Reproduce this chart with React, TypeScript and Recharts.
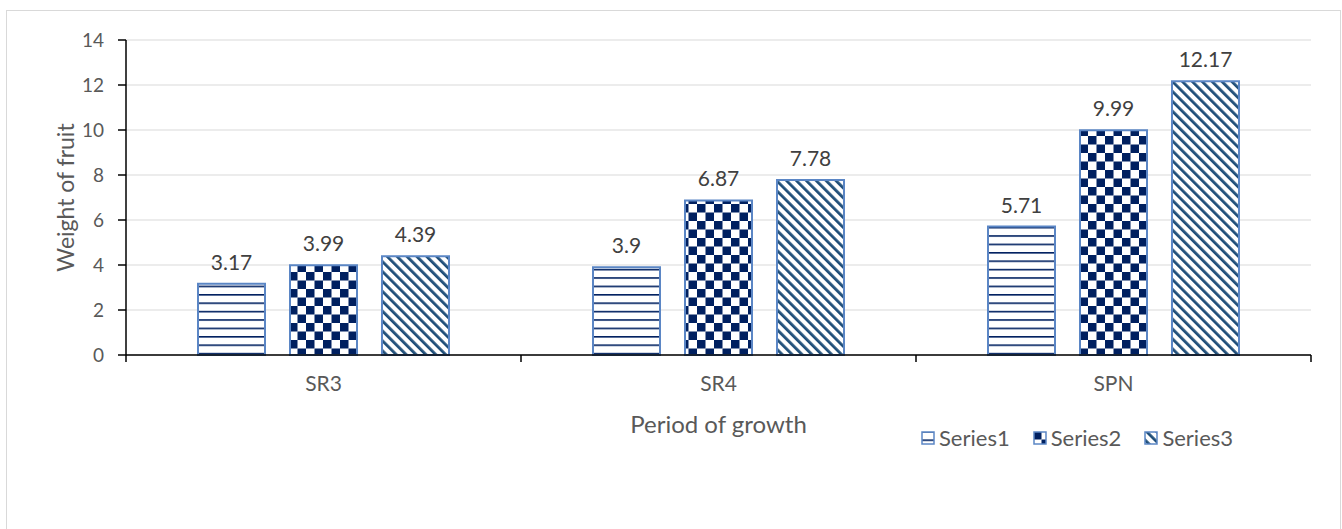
import React from 'react';
import { BarChart, Bar, XAxis, YAxis, CartesianGrid, LabelList } from 'recharts';

const CATEGORIES = ['SR3', 'SR4', 'SPN'];
const SERIES1 = [3.17, 3.9, 5.71];
const SERIES2 = [3.99, 6.87, 9.99];
const SERIES3 = [4.39, 7.78, 12.17];
const Y_TICKS = [0, 2, 4, 6, 8, 10, 12, 14];
const SERIES_NAMES = ['Series1', 'Series2', 'Series3'];

const data = CATEGORIES.map((c, i) => ({
  name: c,
  s1: SERIES1[i],
  s2: SERIES2[i],
  s3: SERIES3[i],
}));

const FONT = 'Lato, "Open Sans", sans-serif';
const NAVY = '#002060';
const STRIPE = '#1F4E79';
const EDGE = '#5B86C5';
const TEXT = '#595959';

const W = 1342;
const H = 529;
const PLOT_LEFT = 126;
const PLOT_RIGHT = 1311;
const PLOT_TOP = 40;
const PLOT_BOTTOM = 355;
const Y_AXIS_W = 70;
const X_AXIS_H = 40;
const BAND = (PLOT_RIGHT - PLOT_LEFT) / CATEGORIES.length;

function CategoryTick({ x, y, payload, index }: any) {
  return (
    <g>
      <line x1={x - BAND / 2} x2={x - BAND / 2} y1={y - 8} y2={y - 1} stroke="#000" strokeWidth={1.5} />
      {index === CATEGORIES.length - 1 && (
        <line x1={x + BAND / 2} x2={x + BAND / 2} y1={y - 8} y2={y - 1} stroke="#000" strokeWidth={1.5} />
      )}
      <text x={x} y={y + 28} textAnchor="middle" fontSize={21} fill={TEXT} fontFamily={FONT}>
        {payload.value}
      </text>
    </g>
  );
}

function LegendBox() {
  const fills = ['url(#pat-s1)', 'url(#pat-s2)', 'url(#pat-s3)'];
  return (
    <div style={{ display: 'flex', gap: 23, fontFamily: FONT, fontSize: 22, color: TEXT, alignItems: 'center' }}>
      {SERIES_NAMES.map((n, i) => (
        <div key={`leg-${n}`} style={{ display: 'flex', alignItems: 'center', gap: 4 }}>
          <svg width={14} height={14}>
            <rect x={1} y={1} width={12} height={12} fill={fills[i]} stroke={EDGE} strokeWidth={1.5} />
          </svg>
          <span>{n}</span>
        </div>
      ))}
    </div>
  );
}

export default function App() {
  return (
    <div style={{ position: 'absolute', left: 0, top: 0, width: W, height: H, background: '#fff', overflow: 'hidden' }}>
      <div style={{ position: 'absolute', left: 6, top: 10, width: 1333, height: 600, border: '1px solid #d9d9d9' }} />
      <div style={{ position: 'absolute', left: 0, top: 0 }}>
        <BarChart
          width={W}
          height={H}
          data={data}
          margin={{ top: PLOT_TOP, right: W - PLOT_RIGHT, left: PLOT_LEFT - Y_AXIS_W, bottom: H - PLOT_BOTTOM - X_AXIS_H }}
          barSize={67}
          barGap={25}
        >
          <defs>
            <pattern id="pat-s1" width={8} height={8.4} patternUnits="userSpaceOnUse">
              <rect width={8} height={8.4} fill="#fff" />
              <rect y={0} width={8} height={1.6} fill={NAVY} />
            </pattern>
            <pattern id="pat-s2" width={17} height={17} patternUnits="userSpaceOnUse">
              <rect width={17} height={17} fill="#fff" />
              <rect x={0} y={0} width={8.5} height={8.5} fill={NAVY} />
              <rect x={8.5} y={8.5} width={8.5} height={8.5} fill={NAVY} />
            </pattern>
            <pattern id="pat-s3" width={7} height={7} patternUnits="userSpaceOnUse" patternTransform="rotate(-45)">
              <rect width={7} height={7} fill="#fff" />
              <rect x={0} y={0} width={2.8} height={7} fill={STRIPE} />
            </pattern>
          </defs>
          <CartesianGrid vertical={false} stroke="#d9d9d9" strokeWidth={1.2} />
          <XAxis
            dataKey="name"
            height={X_AXIS_H}
            axisLine={{ stroke: '#000', strokeWidth: 1.5 }}
            tickLine={false}
            tick={<CategoryTick />}
            interval={0}
            label={{ value: 'Period of growth', position: 'insideBottom', offset: -38, fontSize: 24, fill: TEXT, fontFamily: FONT }}
          />
          <YAxis
            width={Y_AXIS_W}
            domain={[0, 14]}
            ticks={Y_TICKS}
            interval={0}
            axisLine={{ stroke: '#000', strokeWidth: 1.5 }}
            tickLine={{ stroke: '#000', strokeWidth: 1.5 }}
            tickSize={8}
            tickMargin={14}
            tick={{ fontSize: 19, fill: TEXT, fontFamily: FONT }}
            label={{ value: 'Weight of fruit', angle: -90, position: 'insideLeft', offset: 10, fontSize: 23, fill: TEXT, fontFamily: FONT, style: { textAnchor: 'middle' } }}
          />
          <Bar dataKey="s1" name="Series1" fill="url(#pat-s1)" stroke={EDGE} strokeWidth={2} isAnimationActive={false}>
            <LabelList dataKey="s1" position="top" offset={14} fontSize={21} fill="#404040" fontFamily={FONT} />
          </Bar>
          <Bar dataKey="s2" name="Series2" fill="url(#pat-s2)" stroke={EDGE} strokeWidth={2} isAnimationActive={false}>
            <LabelList dataKey="s2" position="top" offset={14} fontSize={21} fill="#404040" fontFamily={FONT} />
          </Bar>
          <Bar dataKey="s3" name="Series3" fill="url(#pat-s3)" stroke={EDGE} strokeWidth={2} isAnimationActive={false}>
            <LabelList dataKey="s3" position="top" offset={14} fontSize={21} fill="#404040" fontFamily={FONT} />
          </Bar>
        </BarChart>
      </div>
      <div style={{ position: 'absolute', left: 921, top: 424 }}>
        <LegendBox />
      </div>
    </div>
  );
}
